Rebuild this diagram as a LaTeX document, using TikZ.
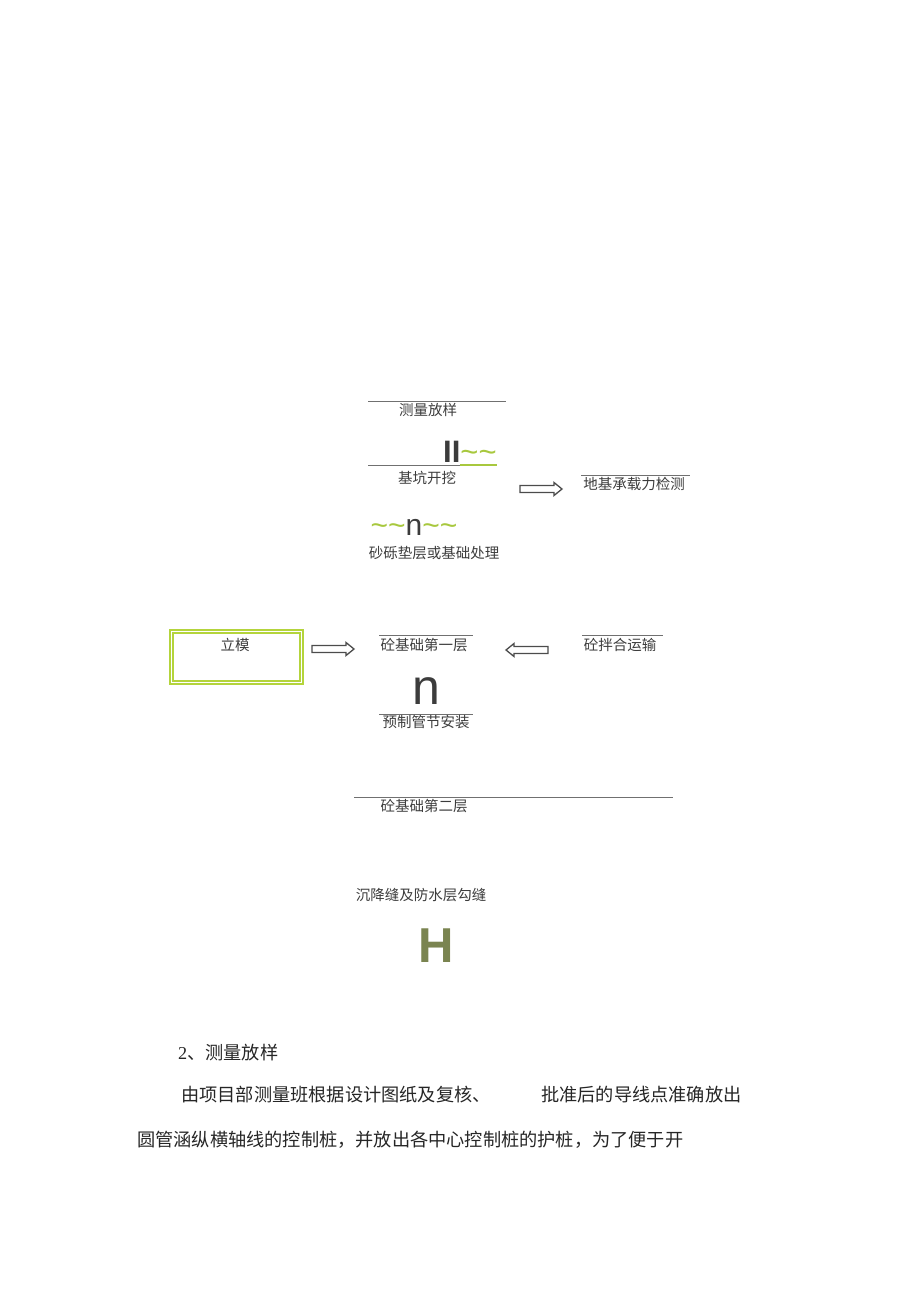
\documentclass[tikz,border=0pt]{standalone}
\usepackage{fontspec}
\setmainfont{Liberation Serif}
\setsansfont{Liberation Sans}
\newfontfamily\cjk{Noto Sans CJK SC}
\usepackage{xcolor}
\usetikzlibrary{positioning}
\definecolor{inkgray}{HTML}{3C3C3C}
\definecolor{rulegray}{HTML}{707070}
\definecolor{leafgreen}{HTML}{A8C83E}
\definecolor{boxgreen}{HTML}{B4D43C}
\definecolor{olivegray}{HTML}{7A8450}
\newcommand{\leaf}[1]{\textcolor{leafgreen}{#1}}

\begin{document}
\begin{tikzpicture}[x=1pt, y=-1pt,
    lbl/.style={font=\cjk\fontsize{14.5}{16}\selectfont, text=inkgray, inner sep=0pt},
    body/.style={font=\cjk\fontsize{18.2}{20}\selectfont, text=black!85, inner sep=0pt, anchor=west},
    glyph/.style={font=\sffamily\fontsize{#1}{#1}\selectfont, text=inkgray, inner sep=0pt},
    rule/.style={draw=rulegray, line width=0.6pt},
    blockarrow/.pic={\draw[black!70, line width=1.3pt, fill=white]
        (-21,-3.5) -- (13,-3.5) -- (13,-6.5) -- (21,0) -- (13,6.5) -- (13,3.5) -- (-21,3.5) -- cycle;}]
\useasboundingbox (0,0) rectangle (920,1303);

\draw[rule] (368,401) -- (506,401);
\draw[rule] (368,465) -- (497,465);
\draw[leafgreen, line width=1.2pt] (460,465) -- (497,465);
\draw[rule] (581,475) -- (690,475);
\draw[rule] (379,635) -- (473,635);
\draw[rule] (582,635) -- (663,635);
\draw[rule] (379,714) -- (473,714);
\draw[rule] (354,797) -- (673,797);

\node[lbl] (survey) at (428,410) {测量放样};
\node[glyph=31, anchor=west] (mark1) at (443,452) {\textbf{II}\leaf{\textasciitilde\textasciitilde}};
\node[lbl] (dig) at (427,478) {基坑开挖};
\node[lbl] (bearing) at (634,484) {地基承载力检测};
\node[glyph=30] (mark2) at (414,527) {\leaf{\textasciitilde\textasciitilde}n\leaf{\textasciitilde\textasciitilde}};
\node[lbl] (cushion) at (434,553) {砂砾垫层或基础处理};

\draw[boxgreen, line width=2pt, double=white, double distance=1.2pt] (171.5,631.5) rectangle (301.5,682.5);
\node[lbl] (form) at (235,645) {立模};
\node[lbl] (base1) at (424,645) {砼基础第一层};
\node[lbl] (mix) at (620,645) {砼拌合运输};
\node[glyph=50] (mark3) at (426,691) {n};
\node[lbl] (pipe) at (426,722) {预制管节安装};
\node[lbl] (base2) at (424,806) {砼基础第二层};
\node[lbl] (joint) at (421,895) {沉降缝及防水层勾缝};
\node[glyph=49, text=olivegray] (mark4) at (436,946) {\textbf{H}};

\pic at (541,489) {blockarrow};
\pic at (333,649) {blockarrow};
\pic[rotate=180] at (527,650) {blockarrow};

\node[body] (head) at (178,1053) {\textrm{2}、测量放样};
\node[body] (para1a) at (181,1095) {由项目部测量班根据设计图纸及复核、};
\node[body] (para1b) at (541,1095) {批准后的导线点准确放出};
\node[body] (para2) at (137,1140) {圆管涵纵横轴线的控制桩，并放出各中心控制桩的护桩，为了便于开};
\end{tikzpicture}
\end{document}
